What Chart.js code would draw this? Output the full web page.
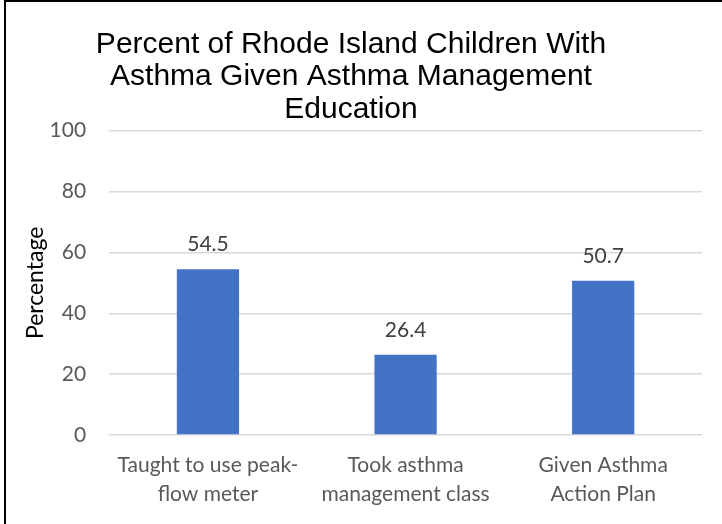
<!DOCTYPE html>
<html lang="en">
<head>
    <meta charset="UTF-8">
    <title>Asthma Management Education</title>
    <script src="https://cdn.jsdelivr.net/npm/chart.js"></script>
    <style>
        body { margin: 0; background: #fff; }
        #wrap { position: relative; width: 722px; height: 524px; }
        #frame {
            position: absolute; left: 4px; top: 0; width: 730px; height: 540px;
            border-left: 2px solid #000; border-top: 2px solid #000; pointer-events: none;
        }
    </style>
</head>
<body>
    <div id="wrap">
        <canvas id="asthmaChart" width="722" height="524"></canvas>
        <div id="frame"></div>
    </div>

    <script>
        // Categories (split over two lines like the axis shows them)
        const categories = [
            ['Taught to use peak-', 'flow meter'],
            ['Took asthma', 'management class'],
            ['Given Asthma', 'Action Plan']
        ];
        const percentages = [54.5, 26.4, 50.7];
        const yTicks = [0, 20, 40, 60, 80, 100];

        const textFont = 'Lato, "Open Sans", sans-serif';

        // Writes each bar's value just above it
        const valueLabels = {
            id: 'valueLabels',
            afterDatasetsDraw(chart) {
                const ctx = chart.ctx;
                const meta = chart.getDatasetMeta(0);
                ctx.save();
                ctx.font = '21px ' + textFont;
                ctx.fillStyle = '#404040';
                ctx.textAlign = 'center';
                ctx.textBaseline = 'bottom';
                meta.data.forEach((bar, i) => {
                    ctx.fillText(percentages[i].toFixed(1), bar.x, bar.y - 14);
                });
                ctx.restore();
            }
        };

        const ctx = document.getElementById('asthmaChart').getContext('2d');
        new Chart(ctx, {
            type: 'bar',
            data: {
                labels: categories,
                datasets: [{
                    label: 'Percentage',
                    data: percentages,
                    backgroundColor: '#4472C4',
                    borderWidth: 0,
                    categoryPercentage: 1,
                    barPercentage: 0.315
                }]
            },
            options: {
                responsive: false,
                animation: false,
                layout: { padding: { left: 0, right: 20, top: 28, bottom: 15 } },
                plugins: {
                    legend: { display: false },
                    tooltip: { enabled: false },
                    title: {
                        display: true,
                        text: ['Percent of Rhode Island Children With', 'Asthma Given Asthma Management', 'Education'],
                        color: '#000',
                        font: { family: '"Liberation Sans", Arial, sans-serif', size: 30, weight: 'normal', lineHeight: 1.085 },
                        padding: { top: 0, bottom: 5 }
                    }
                },
                scales: {
                    x: {
                        // hidden tick marks keep the labels clear of the axis
                        grid: { display: false, tickLength: 16 },
                        border: { display: false },
                        ticks: {
                            color: '#595959',
                            font: { family: textFont, size: 21, lineHeight: '29px' },
                            padding: 0,
                            maxRotation: 0
                        }
                    },
                    y: {
                        min: 0,
                        max: 100,
                        afterBuildTicks(axis) {
                            axis.ticks = yTicks.map(v => ({ value: v }));
                        },
                        grid: { color: '#D9D9D9', lineWidth: 1.5, tickLength: 23, tickColor: 'rgba(0,0,0,0)' },
                        border: { display: false },
                        ticks: {
                            color: '#595959',
                            font: { family: textFont, size: 21 },
                            padding: 0
                        },
                        title: {
                            display: true,
                            text: 'Percentage',
                            color: '#000',
                            font: { family: textFont, size: 23 },
                            padding: { top: 22, bottom: 0 }
                        }
                    }
                }
            },
            plugins: [valueLabels]
        });
    </script>
</body>
</html>
